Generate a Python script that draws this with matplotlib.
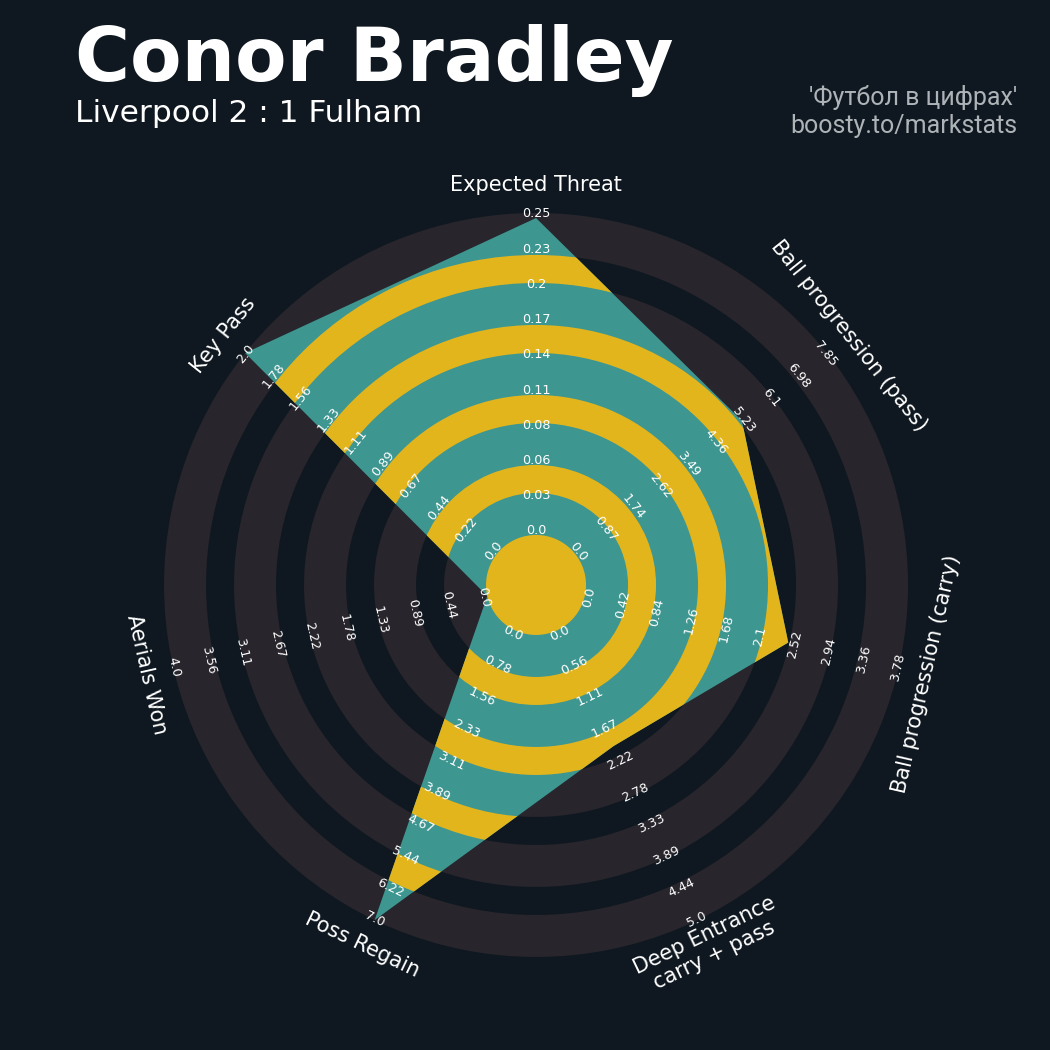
import numpy as np
import matplotlib
matplotlib.use("Agg")
import matplotlib.pyplot as plt
from matplotlib.patches import Polygon, Wedge, Circle

# data
params = ["Expected Threat", "Ball progression (pass)", "Ball progression (carry)",
          "Deep Entrance\ncarry + pass", "Poss Regain", "Aerials Won", "Key Pass"]
low = [0, 0, 0, 0, 0, 0, 0]
high = [0.254, 7.848, 3.78, 5.0, 7.0, 4.0, 2.0]
values = [0.25, 5.2, 2.45, 2.0, 7.0, 0.0, 2.0]

title = "Conor Bradley"
subtitle = "Liverpool 2 : 1 Fulham"
credits = ["'Футбол в цифрах'", "boosty.to/markstats"]

BG = "#0f1820"
RING_DARK = "#28252c"
TEAL = "#3e9690"
YELLOW = "#e3b51d"

# radar geometry (units ~ pixels)
CENTER_R = 50
WIDE = 42
NARROW = 28
N_BANDS = 5
MAX_R = CENTER_R + N_BANDS * WIDE + (N_BANDS - 1) * NARROW
N_LABELS = 10

fig = plt.figure(figsize=(10.5, 10.5), dpi=100, facecolor=BG)
ax = fig.add_axes([0.5105 - 0.42, 0.4429 - 0.42, 0.84, 0.84])
ax.set_xlim(-441, 441)
ax.set_ylim(-441, 441)
ax.set_aspect("equal")
ax.axis("off")

n = len(params)
angles = np.deg2rad(90 - np.arange(n) * 360 / n)

# background rings
for i in range(N_BANDS):
    r_in = CENTER_R + i * (WIDE + NARROW)
    ax.add_patch(Wedge((0, 0), r_in + WIDE, 0, 360, width=WIDE,
                       facecolor=RING_DARK, edgecolor="none"))

# radar polygon
radii = [CENTER_R + (v - lo) / (hi - lo) * (MAX_R - CENTER_R)
         for v, lo, hi in zip(values, low, high)]
verts = np.column_stack([np.array(radii) * np.cos(angles),
                         np.array(radii) * np.sin(angles)])
poly = Polygon(verts, closed=True, facecolor=TEAL, edgecolor="none")
ax.add_patch(poly)

for i in range(N_BANDS - 1):
    r_in = CENTER_R + WIDE + i * (WIDE + NARROW)
    w = Wedge((0, 0), r_in + NARROW, 0, 360, width=NARROW,
              facecolor=YELLOW, edgecolor="none")
    ax.add_patch(w)
    w.set_clip_path(poly)
ax.add_patch(Circle((0, 0), CENTER_R, facecolor=YELLOW, edgecolor="none"))


def label_rotation(a):
    rot = np.rad2deg(a) - 90
    rot = (rot + 180) % 360 - 180
    if rot < -90:
        rot += 180
    elif rot > 90:
        rot -= 180
    return rot


# range labels
for a, lo, hi in zip(angles, low, high):
    rot = label_rotation(a)
    for k, val in enumerate(np.linspace(lo, hi, N_LABELS)):
        r = CENTER_R + 4 + k * (MAX_R - CENTER_R - 5) / (N_LABELS - 1)
        ax.text(r * np.cos(a), r * np.sin(a), str(round(float(val), 2)),
                rotation=rot, ha="center", va="center", color="white",
                fontsize=9.2, rotation_mode="anchor")

# parameter labels
for a, p in zip(angles, params):
    r = 400
    ax.text(r * np.cos(a), r * np.sin(a), p, rotation=label_rotation(a),
            ha="center", va="center", color="white", fontsize=15,
            rotation_mode="anchor", linespacing=1.1)

fig.text(0.0714, 0.923, title, fontsize=54, fontweight="bold", color="white",
         ha="left", va="baseline")
fig.text(0.0714, 0.884, subtitle, fontsize=22.5, color="white",
         ha="left", va="baseline")
fig.text(0.9686, 0.900, credits[0], fontsize=18, color="#aeb3b7",
         ha="right", va="baseline", family=["Roboto", "DejaVu Sans"])
fig.text(0.9686, 0.873, credits[1], fontsize=18, color="#aeb3b7",
         ha="right", va="baseline", family=["Roboto", "DejaVu Sans"])

fig.savefig("out.png", dpi=100, facecolor=BG)
